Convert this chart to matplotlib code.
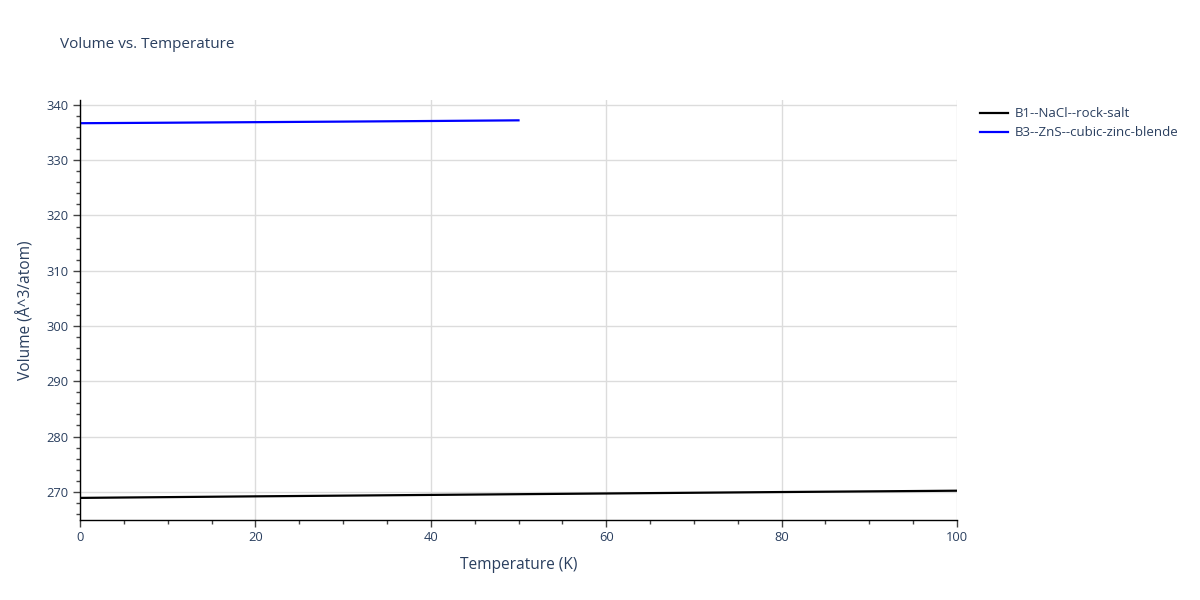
import matplotlib
matplotlib.use("Agg")
import matplotlib.pyplot as plt
from matplotlib.ticker import MultipleLocator

plt.rcParams['font.family'] = ['Open Sans', 'DejaVu Sans']

# temperatures (K) and volumes (Å^3/atom)
temp_b1 = [0, 10, 20, 30, 40, 50, 60, 70, 80, 90, 100]
vol_b1 = [268.90, 269.04, 269.18, 269.31, 269.44, 269.57, 269.70, 269.83, 269.96, 270.08, 270.20]
temp_b3 = [0, 10, 20, 30, 40, 50]
vol_b3 = [336.70, 336.79, 336.89, 336.99, 337.10, 337.22]

label_b1 = "B1--NaCl--rock-salt"
label_b3 = "B3--ZnS--cubic-zinc-blende"

text_col = "#2a3f5f"
grid_col = "#dcdcdc"

fig = plt.figure(figsize=(12, 6), dpi=100)
ax = fig.add_axes([80 / 1200, 80 / 600, 877 / 1200, 420 / 600])

ax.plot(temp_b1, vol_b1, color="black", lw=1.6, label=label_b1)
ax.plot(temp_b3, vol_b3, color="blue", lw=1.6, label=label_b3)

ax.set_xlim(0, 100)
ax.set_ylim(264.9, 340.9)
ax.xaxis.set_major_locator(MultipleLocator(20))
ax.xaxis.set_minor_locator(MultipleLocator(5))
ax.yaxis.set_major_locator(MultipleLocator(10))
ax.yaxis.set_minor_locator(MultipleLocator(2))

ax.grid(True, which="major", color=grid_col, lw=1)
ax.set_axisbelow(True)
for s in ["top", "right"]:
    ax.spines[s].set_visible(False)
for s in ["left", "bottom"]:
    ax.spines[s].set_color("black")
    ax.spines[s].set_linewidth(1)

ax.tick_params(which="major", direction="out", length=5, width=1, color="#444444",
               labelsize=9.3, labelcolor=text_col, pad=3)
ax.tick_params(which="minor", direction="out", length=3, width=1, color="#444444")

ax.set_xlabel("Temperature (K)", fontsize=11.2, color=text_col, labelpad=9)
ax.set_ylabel("Volume (Å^3/atom)", fontsize=11.2, color=text_col, labelpad=9)

fig.text(60 / 1200, 1 - 45 / 600, "Volume vs. Temperature", fontsize=11,
         color=text_col, va="center", ha="left")

leg = ax.legend(loc="upper left", bbox_to_anchor=(975 / 1200, 1 - 102 / 600),
                bbox_transform=fig.transFigure, frameon=False, fontsize=9.5,
                handlelength=2.1, handletextpad=0.5, labelspacing=0.45, borderaxespad=0)
for t in leg.get_texts():
    t.set_color(text_col)

fig.savefig("out.png", dpi=100)
